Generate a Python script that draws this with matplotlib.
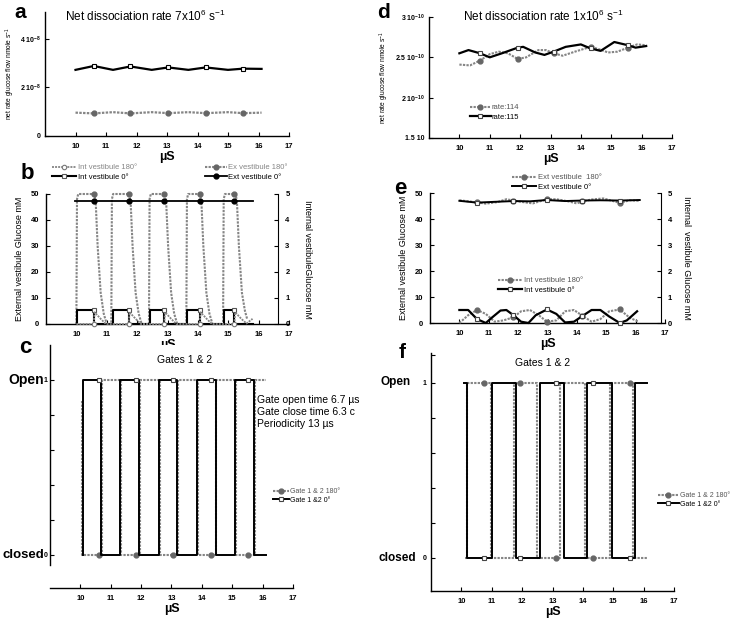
import numpy as np
import matplotlib
matplotlib.use("Agg")
import matplotlib.pyplot as plt

plt.rcParams['font.family'] = ['Liberation Sans', 'DejaVu Sans']
plt.rcParams['mathtext.fontset'] = 'custom'
plt.rcParams['mathtext.rm'] = 'Liberation Sans'
plt.rcParams['mathtext.default'] = 'regular'

W, H = 740, 623
GRAY = '#858585'
DOT = (0, (1.1, 0.6))
XTICKS = [10, 11, 12, 13, 14, 15, 16, 17]

# ---- panel a : net rate, dissociation 7x10^6 ----
a_x = [10.0, 10.6, 11.23, 11.8, 12.5, 13.04, 13.7, 14.27, 15.0, 15.5, 16.1]
a_rate_0 = np.array([2.72, 2.88, 2.72, 2.86, 2.72, 2.82, 2.72, 2.82, 2.72, 2.77, 2.76]) * 1e-8
a_rate_180 = np.array([0.96, 0.93, 0.98, 0.93, 0.98, 0.94, 0.98, 0.94, 0.98, 0.94, 0.96]) * 1e-8
a_marks = [1, 3, 5, 7, 9]

# ---- panel b : vestibule glucose ----
b_ext180_x = [10.0, 10.02, 10.06, 10.6, 10.64, 10.7, 10.8, 10.9, 11.0,
              11.15, 11.17, 11.21, 11.75, 11.79, 11.85, 11.95, 12.05, 12.15,
              12.39, 12.41, 12.45, 12.92, 12.96, 13.02, 13.12, 13.22, 13.32,
              13.62, 13.64, 13.68, 14.08, 14.12, 14.18, 14.28, 14.38, 14.48,
              14.83, 14.85, 14.89, 15.25, 15.29, 15.35, 15.45, 15.55, 15.62]
b_ext180_y = [0, 48, 50, 50, 46, 30, 12, 4, 0,
              0, 48, 50, 50, 46, 30, 12, 4, 0,
              0, 48, 50, 50, 46, 30, 12, 4, 0,
              0, 48, 50, 50, 46, 30, 12, 4, 0,
              0, 48, 50, 50, 46, 30, 12, 5, 2]
b_ext180_mx = [10.57, 11.72, 12.89, 14.06, 15.2]
b_ext0_x = [9.97, 10.57, 11.72, 12.89, 14.06, 15.2, 15.82]
b_ext0_y = [47.4, 47.4, 47.4, 47.4, 47.4, 47.4, 47.4]
b_int0_x = [10.02, 10.02, 10.57, 10.57, 11.19, 11.19, 11.72, 11.72, 12.41, 12.41,
            12.89, 12.89, 13.64, 13.64, 14.06, 14.06, 14.85, 14.85, 15.2, 15.2, 15.8]
b_int0_y = [0, 0.54, 0.54, 0, 0, 0.54, 0.54, 0, 0, 0.54,
            0.54, 0, 0, 0.54, 0.54, 0, 0, 0.54, 0.54, 0, 0]
b_int0_marks = [2, 6, 10, 14, 18]
b_int180_x = [10.0, 10.57, 10.6, 10.8, 10.97, 11.72, 11.75, 11.95, 12.12,
              12.89, 12.92, 13.12, 13.29, 14.06, 14.09, 14.29, 14.46,
              15.2, 15.23, 15.43, 15.6, 15.8]
b_int180_y = [0, 0, 0.45, 0.2, 0, 0, 0.45, 0.2, 0,
              0, 0.45, 0.2, 0, 0, 0.45, 0.2, 0,
              0, 0.45, 0.2, 0.02, 0.2]
b_int180_marks = [1, 5, 9, 13, 17]

# ---- panel c : gates, 7x10^6 ----
c_gate0_x = [10.08, 10.08, 10.62, 10.68, 10.68, 11.31, 11.31, 11.83, 11.93, 11.93,
             12.59, 12.59, 13.06, 13.19, 13.19, 13.85, 13.85, 14.31, 14.45, 14.45,
             15.1, 15.1, 15.52, 15.72, 15.72, 16.12]
c_gate0_y = [0, 1, 1, 1, 0, 0, 1, 1, 1, 0,
             0, 1, 1, 1, 0, 0, 1, 1, 1, 0,
             0, 1, 1, 1, 0, 0]
c_gate0_marks = [2, 7, 12, 17, 22]
c_gate180_x = [10.04, 10.04, 10.62, 10.71, 10.71, 11.33, 11.33, 11.83, 11.96, 11.96,
               12.62, 12.62, 13.06, 13.22, 13.22, 13.87, 13.87, 14.31, 14.48, 14.48,
               15.12, 15.12, 15.52, 15.75, 15.75, 16.12]
c_gate180_y = [0.88, 0, 0, 0, 1, 1, 0, 0, 0, 1,
               1, 0, 0, 0, 1, 1, 0, 0, 0, 1,
               1, 0, 0, 0, 1, 1]
c_gate180_marks = [2, 7, 12, 17, 22]

# ---- panel d : net rate, dissociation 1x10^6 ----
d_115_x = [10.0, 10.3, 10.68, 11.0, 11.4, 11.92, 12.1, 12.5, 12.8, 13.1, 13.5,
           14.0, 14.32, 14.65, 15.1, 15.55, 15.8, 16.15]
d_115_y = np.array([2.55, 2.59, 2.55, 2.50, 2.55, 2.62, 2.63, 2.56, 2.53, 2.57, 2.63,
                    2.66, 2.61, 2.58, 2.69, 2.65, 2.62, 2.64]) * 1e-10
d_115_marks = [2, 5, 9, 12, 15]
d_114_x = [10.0, 10.35, 10.68, 11.0, 11.3, 11.6, 11.92, 12.2, 12.6, 12.85, 13.1,
           13.4, 13.8, 14.32, 14.6, 14.9, 15.2, 15.55, 15.85, 16.15]
d_114_y = np.array([2.41, 2.40, 2.46, 2.54, 2.57, 2.55, 2.48, 2.50, 2.59, 2.59, 2.55,
                    2.52, 2.57, 2.63, 2.60, 2.56, 2.57, 2.62, 2.66, 2.65]) * 1e-10
d_114_marks = [2, 6, 10, 13, 17]

# ---- panel e : vestibule glucose, 1x10^6 ----
e_ext0_x = [10.0, 10.6, 11.2, 11.84, 12.4, 12.98, 13.6, 14.19, 14.8, 15.46, 16.14]
e_ext0_y = [47.0, 46.3, 46.6, 46.9, 46.8, 47.3, 46.9, 47.1, 47.2, 47.1, 47.3]
e_ext0_marks = [1, 3, 5, 7, 9]
e_ext180_x = [10.0, 10.3, 10.6, 10.9, 11.3, 11.6, 11.84, 12.1, 12.5, 12.8, 12.98,
              13.3, 13.7, 14.0, 14.19, 14.5, 14.9, 15.2, 15.46, 15.8, 16.14]
e_ext180_y = [47.2, 46.8, 46.4, 45.9, 46.5, 47.6, 47.1, 46.6, 46.0, 47.0, 47.6,
              47.6, 46.8, 46.0, 46.8, 47.5, 47.9, 47.0, 46.2, 47.2, 47.0]
e_ext180_marks = [2, 6, 10, 14, 18]
e_int0_x = [10.0, 10.3, 10.6, 10.9, 11.1, 11.4, 11.6, 11.84, 12.1, 12.35, 12.6,
            12.98, 13.3, 13.6, 13.9, 14.19, 14.5, 14.8, 15.1, 15.46, 15.7, 16.05]
e_int0_y = [0.5, 0.5, 0.15, 0.0, 0.2, 0.48, 0.5, 0.3, 0.05, 0.0, 0.3,
            0.52, 0.35, 0.02, 0.05, 0.27, 0.5, 0.5, 0.25, 0.0, 0.1, 0.45]
e_int0_marks = [2, 7, 11, 15, 19]
e_int180_x = [10.0, 10.3, 10.6, 10.9, 11.2, 11.5, 11.84, 12.1, 12.4, 12.7, 12.98,
              13.3, 13.6, 13.9, 14.19, 14.5, 14.8, 15.1, 15.46, 15.8, 16.1]
e_int180_y = [0.0, 0.3, 0.5, 0.35, 0.05, 0.1, 0.22, 0.45, 0.5, 0.3, 0.05,
              0.1, 0.45, 0.5, 0.28, 0.05, 0.15, 0.45, 0.52, 0.2, 0.05]
e_int180_marks = [2, 6, 10, 14, 18]

# ---- panel f : gates, 1x10^6 ----
f_gate0_x = [10.1, 10.19, 10.19, 10.73, 11.01, 11.01, 11.80, 11.80, 11.94, 12.58,
             12.58, 13.12, 13.37, 13.37, 14.13, 14.13, 14.33, 14.96, 14.96, 15.56,
             15.72, 15.72, 16.1]
f_gate0_y = [1, 1, 0, 0, 0, 1, 1, 0, 0, 0,
             1, 1, 1, 0, 0, 1, 1, 1, 0, 0,
             0, 1, 1]
f_gate0_marks = [3, 8, 11, 16, 19]
f_gate180_x = [10.12, 10.17, 10.17, 10.73, 10.99, 10.99, 11.72, 11.72, 11.94, 12.5,
               12.5, 13.12, 13.26, 13.26, 14.08, 14.08, 14.33, 14.9, 14.9, 15.56,
               15.66, 15.66, 16.12]
f_gate180_y = [0, 0, 1, 1, 1, 0, 0, 1, 1, 1,
               0, 0, 0, 1, 1, 0, 0, 0, 1, 1,
               1, 0, 0]
f_gate180_marks = [3, 8, 11, 16, 19]


fig = plt.figure(figsize=(W / 100, H / 100), dpi=100)


def px_axes(left, top, right, bottom):
    return fig.add_axes([left / W, 1 - bottom / H, (right - left) / W, (bottom - top) / H])


def style(ax, xlabel_pad=1):
    for s in ['top', 'right']:
        ax.spines[s].set_visible(False)
    for s in ['left', 'bottom']:
        ax.spines[s].set_linewidth(1.0)
    ax.set_xlim(9, 17)
    ax.set_xticks(XTICKS)
    ax.set_xticklabels([str(t) for t in XTICKS], fontsize=5.5, fontweight='bold')
    ax.tick_params(direction='in', length=3, width=0.8, pad=5)
    ax.set_xlabel('µS', fontsize=9, fontweight='bold', labelpad=xlabel_pad)


def leg(ax, handles, labels, x, y, colors, fs=5.5, hl=3.2):
    ax.legend(handles, labels, loc='upper left', bbox_to_anchor=(x / W, 1 - y / H),
              bbox_transform=fig.transFigure, frameon=False, fontsize=fs,
              handlelength=hl, handletextpad=0.15, labelspacing=0.25,
              borderpad=0, borderaxespad=0, labelcolor=colors)


def fig_text(x, y, s, **kw):
    fig.text(x / W, 1 - y / H, s, **kw)


# ======== panel a ========
ax = px_axes(45, 12, 289, 136)
style(ax)
ax.tick_params(axis='y', pad=3)
ax.plot(a_x, a_rate_0, color='black', lw=1.6, marker='s', ms=3.5, mfc='white',
        mec='black', mew=0.8, markevery=a_marks)
ax.plot(a_x, a_rate_180, color=GRAY, lw=1.6, ls=DOT, marker='o', ms=3.5,
        mfc='#666666', mec='#666666', markevery=a_marks)
ax.set_ylim(0, 5.1e-8)
ax.set_yticks([0, 2e-8, 4e-8])
ax.set_yticklabels(['0', r'2 10$^{-8}$', r'4 10$^{-8}$'], fontsize=5, fontweight='bold')
ax.set_ylabel(r'net rate glucose flow nmole s$^{-1}$', fontsize=4.8, labelpad=2)
fig_text(20, 13, 'a', fontsize=15, fontweight='bold', va='center', ha='center')
fig_text(65, 16, r'Net dissociation rate 7x10$^{6}$ s$^{-1}$', fontsize=8.5, va='center')

# ======== panel b ========
ax = px_axes(46, 194, 289, 324)
style(ax)
ax.set_ylim(0, 50)
ax.set_yticks([0, 10, 20, 30, 40, 50])
ax.set_yticklabels(['0', '10', '20', '30', '40', '50'], fontsize=5.5, fontweight='bold')
ax.set_ylabel('External vestibule Glucose mM', fontsize=6.5, labelpad=5)
ax2 = ax.twinx()
ax2.set_xlim(9, 17)
ax2.set_ylim(0, 5)
for s in ['top', 'left', 'bottom']:
    ax2.spines[s].set_visible(False)
ax2.spines['right'].set_position(('axes', (16.65 - 9) / 8))
ax2.set_yticks([0, 1, 2, 3, 4, 5])
ax2.set_yticklabels(['0', '1', '2', '3', '4', '5'], fontsize=5.5, fontweight='bold')
ax2.tick_params(direction='in', length=3, width=0.8, pad=5)
ax2.set_ylabel('Internal vestibuleGlucose mM', fontsize=6.5, rotation=270, labelpad=16)

l1, = ax.plot(b_ext180_x, b_ext180_y, color=GRAY, lw=1.5, ls=DOT, clip_on=False)
ax.plot(b_ext180_mx, [50] * 5, ls='none', marker='o', ms=3.5, color='#666666', clip_on=False)
l1m, = ax.plot([], [], color=GRAY, lw=1.5, ls=DOT, marker='o', ms=3.5, mfc='#666666', mec='#666666')
l2, = ax.plot(b_ext0_x, b_ext0_y, color='black', lw=1.3, marker='o', ms=3.5,
              markevery=[1, 2, 3, 4, 5])
l3, = ax2.plot(b_int0_x, b_int0_y, color='black', lw=1.5, marker='s', ms=3.2,
               mfc='white', mec='#555555', mew=0.8, markevery=b_int0_marks, clip_on=False)
l4, = ax2.plot(b_int180_x, b_int180_y, color=GRAY, lw=1.3, ls=DOT, marker='o', ms=3.2,
               mfc='white', mec='#777777', mew=0.8, markevery=b_int180_marks, clip_on=False)
leg(ax, [l4, l3], ['Int vestibule 180°', 'Int vestibule 0°'], 52, 164, [GRAY, 'black'])
leg(ax2, [l1m, l2], ['Ex vestibule 180°', 'Ext vestibule 0°'], 205, 164, [GRAY, 'black'], hl=2.9)
fig_text(27, 174, 'b', fontsize=16, fontweight='bold', va='center', ha='center')

# ======== panel c ========
ax = px_axes(50, 345, 293, 588)
style(ax)
ax.set_ylim(-0.19, 1.2)
ax.spines['left'].set_bounds(-0.057, 1.2)
ax.set_yticks([0, 0.2, 0.4, 0.6, 0.8, 1.0])
ax.set_yticklabels(['0', '', '', '', '', '1'], fontsize=5, fontweight='bold')
ax.tick_params(axis='y', pad=2)
g1, = ax.plot(c_gate180_x, c_gate180_y, color=GRAY, lw=1.5, ls=DOT, marker='o', ms=3.5,
              mfc='#666666', mec='#666666', markevery=c_gate180_marks)
g2, = ax.plot(c_gate0_x, c_gate0_y, color='black', lw=1.4, marker='s', ms=3.2,
              mfc='white', mec='#444444', mew=0.8, markevery=c_gate0_marks)
leg(ax, [g1, g2], ['Gate 1 & 2 180°', 'Gate 1 &2 0°'], 273, 488, ['#555555', 'black'], fs=5, hl=2.3)
fig_text(25, 348, 'c', fontsize=16, fontweight='bold', va='center', ha='center')
fig_text(185, 360, 'Gates 1 & 2', fontsize=7.5, va='center', ha='center')
fig_text(44, 380, 'Open', fontsize=10, fontweight='bold', va='center', ha='right')
fig_text(44, 555, 'closed', fontsize=9.5, fontweight='bold', va='center', ha='right')
fig_text(257, 400, 'Gate open time 6.7 µs', fontsize=7.5, va='center')
fig_text(257, 412, 'Gate close time 6.3 c', fontsize=7.5, va='center')
fig_text(257, 424, 'Periodicity 13 µs', fontsize=7.5, va='center')

# ======== panel d ========
ax = px_axes(429, 17, 672, 138)
style(ax)
ax.tick_params(axis='y', pad=3)
ax.set_ylim(1.5e-10, 3e-10)
ax.set_yticks([1.5e-10, 2e-10, 2.5e-10, 3e-10])
ax.set_yticklabels(['1.5 10', r'2 10$^{-10}$', r'2.5 10$^{-10}$', r'3 10$^{-10}$'],
                   fontsize=5, fontweight='bold')
ax.set_ylabel(r'net rate glucose flow nmole s$^{-1}$', fontsize=4.8, labelpad=3)
r1, = ax.plot(d_114_x, d_114_y, color=GRAY, lw=1.5, ls=DOT, marker='o', ms=3.5,
              mfc='#666666', mec='#666666', markevery=d_114_marks)
r2, = ax.plot(d_115_x, d_115_y, color='black', lw=1.6, marker='s', ms=3.5,
              mfc='white', mec='#444444', mew=0.8, markevery=d_115_marks)
leg(ax, [r1, r2], ['rate:114', 'rate:115'], 470, 104, ['#555555', 'black'], hl=2.7)
fig_text(383, 12, 'd', fontsize=15, fontweight='bold', va='center', ha='center')
fig_text(463, 16, r'Net dissociation rate 1x10$^{6}$ s$^{-1}$', fontsize=8.5, va='center')

# ======== panel e ========
ax = px_axes(430, 193, 665, 323)
style(ax)
ax.set_ylim(0, 50)
ax.set_yticks([0, 10, 20, 30, 40, 50])
ax.set_yticklabels(['0', '10', '20', '30', '40', '50'], fontsize=5.5, fontweight='bold')
ax.set_ylabel('External vestibule Glucose mM', fontsize=6.5, labelpad=5)
ax2 = ax.twinx()
ax2.set_xlim(9, 17)
ax2.set_ylim(0, 5)
for s in ['top', 'left', 'bottom']:
    ax2.spines[s].set_visible(False)
ax2.spines['right'].set_position(('axes', (16.85 - 9) / 8))
ax2.set_yticks([0, 1, 2, 3, 4, 5])
ax2.set_yticklabels(['0', '1', '2', '3', '4', '5'], fontsize=5.5, fontweight='bold')
ax2.tick_params(direction='in', length=3, width=0.8, pad=5)
ax2.set_ylabel('Internal  vestibule Glucose mM', fontsize=6.5, rotation=270, labelpad=14)

k1, = ax.plot(e_ext180_x, e_ext180_y, color=GRAY, lw=1.5, ls=DOT, marker='o', ms=3.5,
              mfc='#666666', mec='#666666', markevery=e_ext180_marks)
k2, = ax.plot(e_ext0_x, e_ext0_y, color='black', lw=1.4, marker='s', ms=3.2,
              mfc='white', mec='#444444', mew=0.8, markevery=e_ext0_marks)
k3, = ax2.plot(e_int180_x, e_int180_y, color=GRAY, lw=1.5, ls=DOT, marker='o', ms=3.5,
               mfc='#666666', mec='#666666', markevery=e_int180_marks, clip_on=False)
k4, = ax2.plot(e_int0_x, e_int0_y, color='black', lw=1.6, marker='s', ms=3.2,
               mfc='white', mec='#444444', mew=0.8, markevery=e_int0_marks, clip_on=False)
leg(ax, [k1, k2], ['Ext vestibule  180°', 'Ext vestibule 0°'], 512, 174, ['#555555', 'black'])
leg(ax2, [k3, k4], ['Int vestibule 180°', 'Int vestibule 0°'], 498, 277, ['#555555', 'black'])
fig_text(400, 188, 'e', fontsize=16, fontweight='bold', va='center', ha='center')

# ======== panel f ========
ax = px_axes(431, 353, 674, 591)
style(ax)
ax.set_ylim(-0.19, 1.17)
ax.set_yticks([0, 0.2, 0.4, 0.6, 0.8, 1.0, 1.16])
ax.set_yticklabels(['0', '', '', '', '', '1', ''], fontsize=5, fontweight='bold')
ax.tick_params(axis='y', pad=3)
h1, = ax.plot(f_gate180_x, f_gate180_y, color=GRAY, lw=1.5, ls=DOT, marker='o', ms=3.5,
              mfc='#666666', mec='#666666', markevery=f_gate180_marks)
h2, = ax.plot(f_gate0_x, f_gate0_y, color='black', lw=1.4, marker='s', ms=3.2,
              mfc='white', mec='#444444', mew=0.8, markevery=f_gate0_marks)
leg(ax, [h1, h2], ['Gate 1 & 2 180°', 'Gate 1 &2 0°'], 658, 492, ['#555555', 'black'], fs=5, hl=3.0)
fig_text(402, 352, 'f', fontsize=15, fontweight='bold', va='center', ha='center')
fig_text(543, 363, 'Gates 1 & 2', fontsize=7.5, va='center', ha='center')
fig_text(411, 382, 'Open', fontsize=8.5, fontweight='bold', va='center', ha='right')
fig_text(416, 558, 'closed', fontsize=8.5, fontweight='bold', va='center', ha='right')

fig.savefig('out.png', dpi=100)
